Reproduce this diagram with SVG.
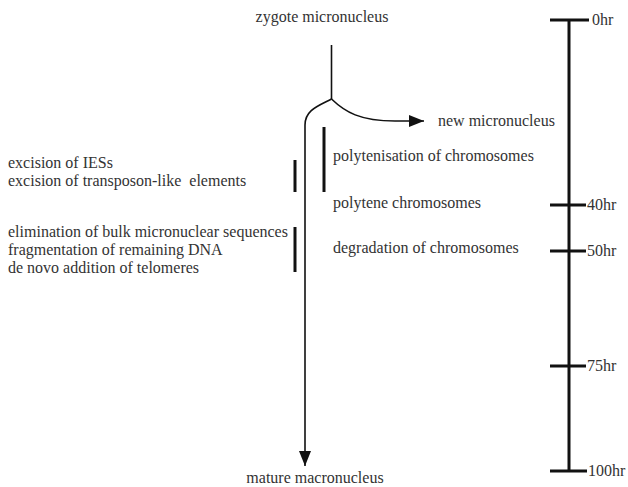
<svg xmlns="http://www.w3.org/2000/svg" width="628" height="487" viewBox="0 0 628 487">
<defs>
<style>
.ln{stroke:#111;stroke-width:1.6;fill:none}
.bar{stroke:#111;stroke-width:3;fill:none}
.tk{stroke:#111;stroke-width:3;fill:none}
</style>
<marker id="ah2" viewBox="0 0 15 12" refX="15" refY="6" markerWidth="15" markerHeight="12" markerUnits="userSpaceOnUse" orient="auto"><path d="M0,0 L15,6 L0,12 z" fill="#111"/></marker>
</defs>
<rect width="628" height="487" fill="#fff"/>
<g id="zygote"><text x="322" y="22" text-anchor="middle" font-family="'Liberation Serif', serif" font-size="16" fill="#333">zygote micronucleus</text></g>
<g id="newmic"><text x="438" y="126" font-family="'Liberation Serif', serif" font-size="16" fill="#333">new micronucleus</text></g>
<g id="mature"><text x="315" y="483" text-anchor="middle" font-family="'Liberation Serif', serif" font-size="16" fill="#333">mature macronucleus</text></g>
<g id="left-notes">
<text x="8" y="168" font-family="'Liberation Serif', serif" font-size="16" fill="#333">excision of IESs</text>
<text x="8" y="186" xml:space="preserve" font-family="'Liberation Serif', serif" font-size="16" fill="#333">excision of transposon-like  elements</text>
<text x="8" y="237" font-family="'Liberation Serif', serif" font-size="16" fill="#333">elimination of bulk micronuclear sequences</text>
<text x="8" y="255" font-family="'Liberation Serif', serif" font-size="16" fill="#333">fragmentation of remaining DNA</text>
<text x="8" y="273" font-family="'Liberation Serif', serif" font-size="16" fill="#333">de novo addition of telomeres</text>
<line class="bar" x1="295" y1="160" x2="295" y2="192"/>
<line class="bar" x1="295" y1="227" x2="295" y2="272"/>
</g>
<g id="right-notes">
<text x="333" y="161" font-family="'Liberation Serif', serif" font-size="16" fill="#333">polytenisation of chromosomes</text>
<text x="333" y="208" font-family="'Liberation Serif', serif" font-size="16" fill="#333">polytene chromosomes</text>
<text x="333" y="253" font-family="'Liberation Serif', serif" font-size="16" fill="#333">degradation of chromosomes</text>
<line class="bar" x1="324" y1="127" x2="324" y2="192"/>
</g>
<g id="timeline">
<line class="tk" x1="569" y1="20" x2="569" y2="472"/>
<line class="tk" x1="550" y1="20" x2="589" y2="20"/>
<line class="tk" x1="550" y1="205" x2="586" y2="205"/>
<line class="tk" x1="550" y1="251" x2="586" y2="251"/>
<line class="tk" x1="550" y1="366" x2="586" y2="366"/>
<line class="tk" x1="550" y1="471" x2="587" y2="471"/>
<text x="592" y="25" font-family="'Liberation Serif', serif" font-size="16" fill="#333">0hr</text>
<text x="587" y="210" font-family="'Liberation Serif', serif" font-size="16" fill="#333">40hr</text>
<text x="587" y="256" font-family="'Liberation Serif', serif" font-size="16" fill="#333">50hr</text>
<text x="587" y="371" font-family="'Liberation Serif', serif" font-size="16" fill="#333">75hr</text>
<text x="588" y="476" font-family="'Liberation Serif', serif" font-size="16" fill="#333">100hr</text>
</g>
<g id="connectors">
<line class="ln" x1="331.5" y1="45" x2="331.5" y2="99"/>
<path class="ln" d="M331.5,99 C318,106 305,110 305,125 L305,466" marker-end="url(#ah2)"/>
<path class="ln" d="M331.5,99 C345,112 360,121 395,121 L424,121" marker-end="url(#ah2)"/>
</g>
</svg>
